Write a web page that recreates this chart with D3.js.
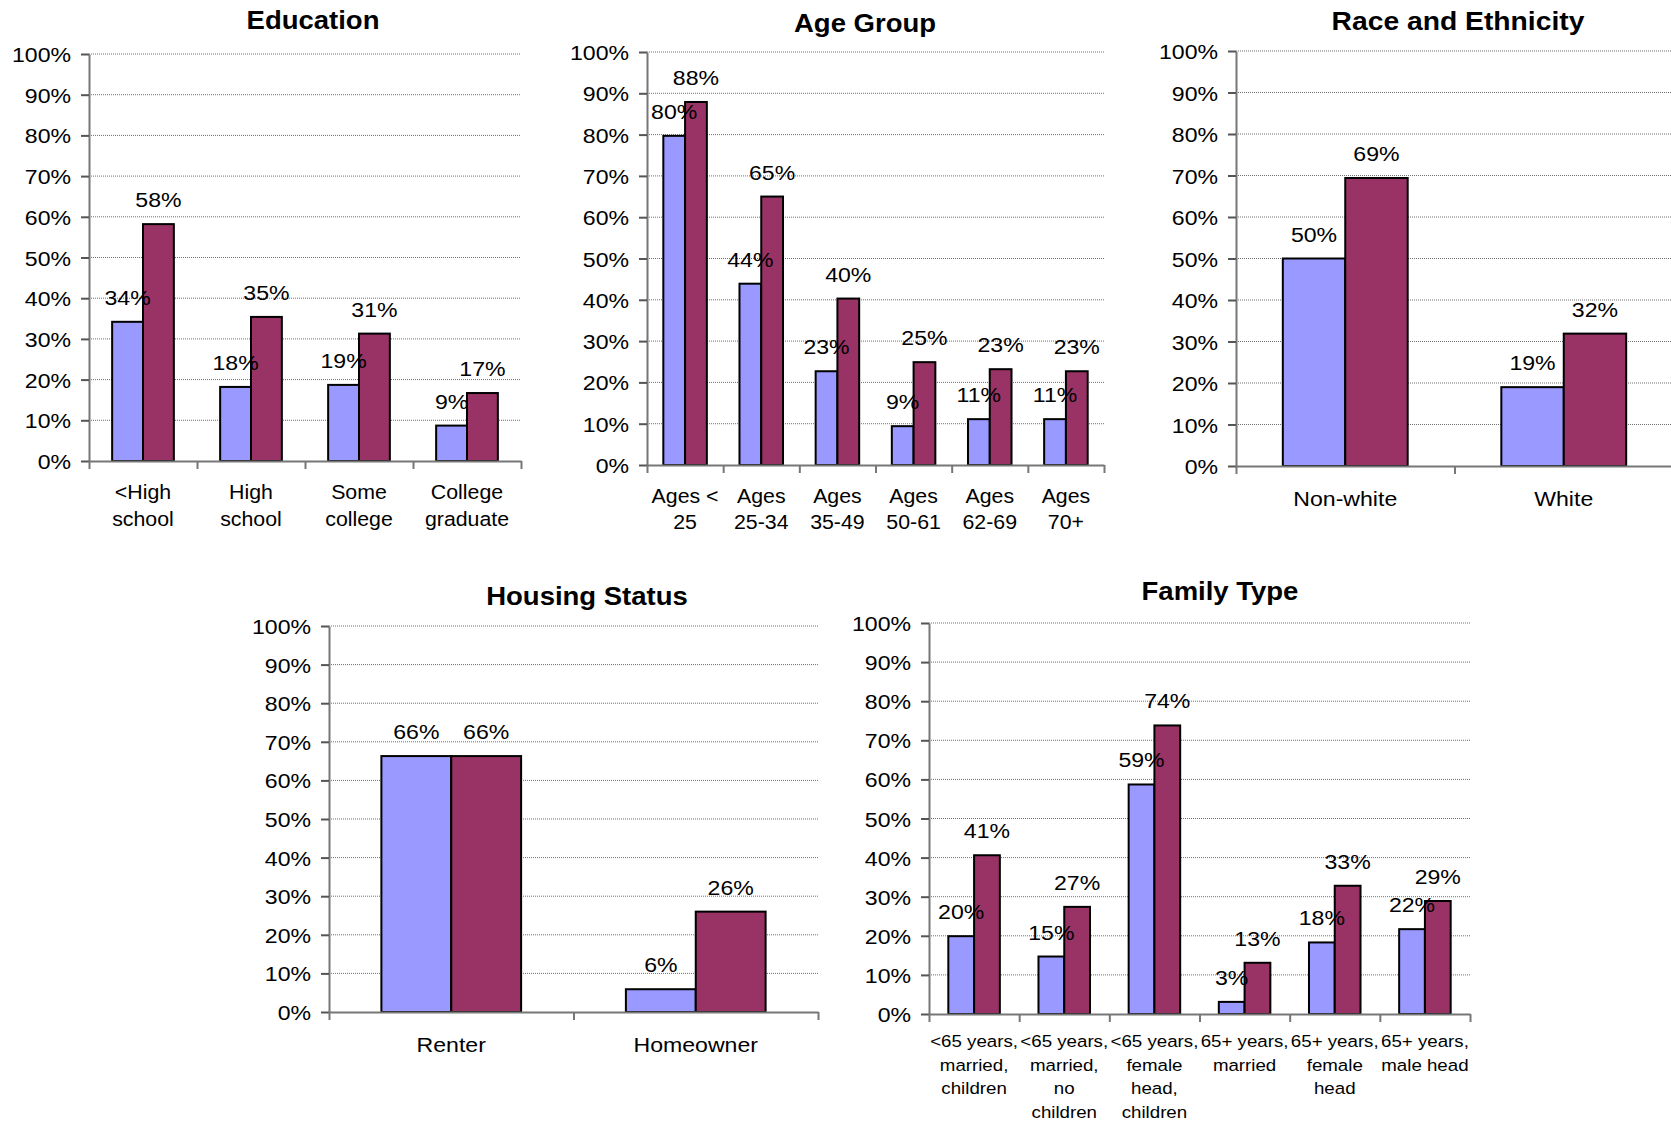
<!DOCTYPE html>
<html>
<head>
<meta charset="utf-8">
<script src="https://cdn.jsdelivr.net/npm/d3@7"></script>
<style>
  body { margin: 0; background: #fff; }
  svg { display: block; font-family: Arial, "Liberation Sans", sans-serif; }
</style>
</head>
<body>
<div id="chart"></div>
<script>
// shares, first series (blue) and second series (maroon)
const yTicks = [0, 0.1, 0.2, 0.3, 0.4, 0.5, 0.6, 0.7, 0.8, 0.9, 1]

const eduCats = [["<High", "school"], ["High", "school"], ["Some", "college"], ["College", "graduate"]]
const eduBlue = [0.342, 0.182, 0.187, 0.087]
const eduRed  = [0.582, 0.354, 0.313, 0.167]

const ageCats = [["Ages <", "25"], ["Ages", "25-34"], ["Ages", "35-49"], ["Ages", "50-61"], ["Ages", "62-69"], ["Ages", "70+"]]
const ageBlue = [0.797, 0.439, 0.227, 0.094, 0.111, 0.111]
const ageRed  = [0.879, 0.650, 0.403, 0.249, 0.232, 0.227]

const raceCats = [["Non-white"], ["White"]]
const raceBlue = [0.50, 0.19]
const raceRed  = [0.694, 0.319]

const housingCats = [["Renter"], ["Homeowner"]]
const housingBlue = [0.663, 0.059]
const housingRed  = [0.663, 0.26]

const familyCats = [
  ["<65 years,", "married,", "children"],
  ["<65 years,", "married,", "no", "children"],
  ["<65 years,", "female", "head,", "children"],
  ["65+ years,", "married"],
  ["65+ years,", "female", "head"],
  ["65+ years,", "male head"]
]
const familyBlue = [0.199, 0.147, 0.587, 0.031, 0.183, 0.217]
const familyRed  = [0.406, 0.274, 0.738, 0.131, 0.328, 0.289]

const colors = {blue: "#9999ff", red: "#993366"}
const axisColor = "#777"
const sx = 1.1   // text in the original is a bit wide
const pct = d3.format(".0%")

const svg = d3.select("#chart")
  .append("svg")
  .attr("width", 1671)
  .attr("height", 1122)

const panels = [
  {title: "Education", cats: eduCats, blue: eduBlue, red: eduRed,
   x0: 89, x1: 521, top: 54, bottom: 461, tx: 313, ty: 29, lineH: 26.5, catSize: 20.5, catSx: 1.04},
  {title: "Age Group", cats: ageCats, blue: ageBlue, red: ageRed,
   x0: 647, x1: 1104, top: 52, bottom: 465, tx: 865, ty: 32, lineH: 26, catSize: 20.5, catSx: 1.04},
  {title: "Race and Ethnicity", cats: raceCats, blue: raceBlue, red: raceRed,
   x0: 1236, x1: 1673, top: 51, bottom: 466, tx: 1458, ty: 30, catGap: 33, titleSize: 25.7},
  {title: "Housing Status", cats: housingCats, blue: housingBlue, red: housingRed,
   x0: 329, x1: 818, top: 626, bottom: 1012, tx: 587, ty: 605, catGap: 33},
  {title: "Family Type", cats: familyCats, blue: familyBlue, red: familyRed,
   x0: 929, x1: 1470, top: 623, bottom: 1014, tx: 1220, ty: 600,
   catSize: 17, catGap: 27, lineH: 23.7}
]

function drawPanel(p) {
  const n = p.cats.length
  const catSize = p.catSize || 21
  const catSx = p.catSx || sx
  const catGap = p.catGap || 31
  const lineH = p.lineH || 26

  const x = d3.scaleBand().domain(d3.range(n)).range([p.x0, p.x1])
  const xs = d3.scaleBand().domain(["blue", "red"]).range([0, x.bandwidth()]).paddingOuter(0.75)
  const y = d3.scaleLinear().domain([0, 1]).range([p.bottom, p.top])
  const xb = d3.scaleLinear().domain([0, n]).range([p.x0, p.x1])

  const g = svg.append("g")

  // dotted gridlines
  g.append("g")
    .selectAll("line")
    .data(yTicks.filter(d => d > 0))
    .join("line")
    .attr("x1", p.x0).attr("x2", p.x1)
    .attr("y1", d => y(d)).attr("y2", d => y(d))
    .attr("stroke", "#707070")
    .attr("stroke-width", 1)
    .attr("stroke-dasharray", "1,1")

  const rows = p.cats.map((c, i) => ({i, blue: p.blue[i], red: p.red[i]}))

  const groups = g.append("g")
    .selectAll("g")
    .data(rows)
    .join("g")
    .attr("transform", d => `translate(${x(d.i)},0)`)

  groups.selectAll("rect")
    .data(d => [{k: "blue", v: d.blue}, {k: "red", v: d.red}])
    .join("rect")
    .attr("x", d => xs(d.k))
    .attr("width", xs.bandwidth())
    .attr("y", d => y(d.v))
    .attr("height", d => y(0) - y(d.v))
    .attr("fill", d => colors[d.k])
    .attr("stroke", "#000")
    .attr("stroke-width", 2)

  // y axis
  const ya = g.append("g")
    .attr("transform", `translate(${p.x0},0)`)
    .call(d3.axisLeft(y).tickValues(yTicks).tickFormat(pct).tickSize(8).tickSizeOuter(0).tickPadding(10))
    .attr("font-size", null)
    .attr("font-family", null)
  ya.select(".domain").attr("stroke", axisColor).attr("stroke-width", 2)
  ya.selectAll(".tick line").attr("stroke", "#555").attr("stroke-width", 2)
  ya.selectAll(".tick text")
    .attr("fill", "#000")
    .attr("font-size", 21)
    .attr("x", -18 / sx)
    .attr("dy", "0.36em")
    .attr("transform", `scale(${sx},1)`)

  // x axis, ticks between categories
  const xa = g.append("g")
    .attr("transform", `translate(0,${p.bottom})`)
    .call(d3.axisBottom(xb).tickValues(d3.range(n + 1)).tickFormat("").tickSize(8).tickSizeOuter(0))
  xa.select(".domain").attr("stroke", axisColor).attr("stroke-width", 2)
  xa.selectAll(".tick line").attr("stroke", axisColor).attr("stroke-width", 2)

  // value labels above bars
  groups.selectAll("text")
    .data(d => [{k: "blue", v: d.blue}, {k: "red", v: d.red}])
    .join("text")
    .attr("transform", d => `translate(${xs(d.k) + xs.bandwidth() / 2},${y(d.v) - 17}) scale(${sx},1)`)
    .attr("text-anchor", "middle")
    .attr("font-size", 21)
    .text(d => pct(d.v))

  // category labels
  g.append("g")
    .selectAll("text")
    .data(rows)
    .join("text")
    .attr("transform", d => `translate(${x(d.i) + x.bandwidth() / 2},${p.bottom + catGap + catSize * 0.35}) scale(${catSx},1)`)
    .attr("text-anchor", "middle")
    .attr("font-size", catSize)
    .selectAll("tspan")
    .data(d => p.cats[d.i])
    .join("tspan")
    .attr("x", 0)
    .attr("y", (d, j) => j * lineH)
    .text(d => d)

  g.append("text")
    .attr("transform", `translate(${p.tx},${p.ty}) scale(${sx},1)`)
    .attr("text-anchor", "middle")
    .attr("font-size", p.titleSize || 25)
    .attr("font-weight", "bold")
    .text(p.title)
}

panels.forEach(drawPanel)
</script>
</body>
</html>
